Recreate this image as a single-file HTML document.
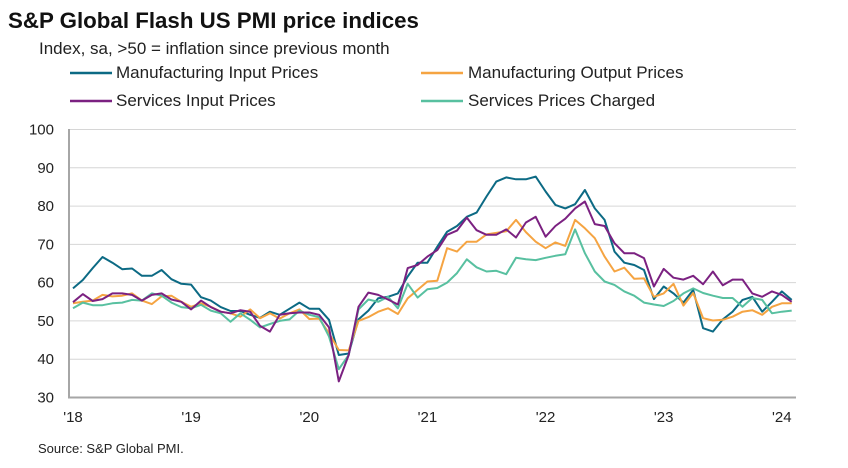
<!DOCTYPE html>
<html><head><meta charset="utf-8"><style>
body{margin:0;background:#fff;font-family:"Liberation Sans",Arial,sans-serif;}
svg text{font-family:"Liberation Sans",Arial,sans-serif;}
</style></head><body>
<svg id="chart" width="848" height="463" viewBox="0 0 848 463" xmlns="http://www.w3.org/2000/svg">
<text x="8" y="28" font-size="22.3" font-weight="bold" fill="#111">S&amp;P Global Flash US PMI price indices</text>
<text x="39" y="54" font-size="17" fill="#222">Index, sa, &gt;50 = inflation since previous month</text>
<g>
<g><line x1="70" y1="73" x2="112" y2="73" stroke="#0c6a84" stroke-width="2.5"/><text x="116" y="78" font-size="17" fill="#222">Manufacturing Input Prices</text></g>
<g><line x1="421" y1="73" x2="463" y2="73" stroke="#f5a442" stroke-width="2.5"/><text x="468" y="78" font-size="17" fill="#222">Manufacturing Output Prices</text></g>
<g><line x1="70" y1="101" x2="112" y2="101" stroke="#7b2181" stroke-width="2.5"/><text x="116" y="106" font-size="17" fill="#222">Services Input Prices</text></g>
<g><line x1="421" y1="101" x2="463" y2="101" stroke="#58c0a0" stroke-width="2.5"/><text x="468" y="106" font-size="17" fill="#222">Services Prices Charged</text></g>
</g>
<g id="grid"></g><g id="series"></g><g id="axes"></g>
<text x="38" y="453" font-size="13" fill="#222">Source: S&amp;P Global PMI.</text>
</svg>
<script>
const yTicks=[30,40,50,60,70,80,90,100];
const xTickLabels=["'18","'19","'20","'21","'22","'23","'24"];
const mfgInput=[58.5,60.7,63.8,66.7,65.2,63.5,63.7,61.8,61.8,63.3,60.9,59.7,59.5,56.2,55.3,53.6,52.6,52.6,51.6,50.8,52.4,51.6,53.2,54.8,53.2,53.2,50.3,41.1,41.5,50.4,52.7,55.9,56.3,57.2,61.6,65.2,65.2,69.4,73.3,74.8,77.2,78.3,82.5,86.4,87.5,87,87,87.7,83.8,80.3,79.4,80.5,84.2,79.4,76.4,68.1,65.2,64.6,63.3,55.7,59,57.2,54.8,58.1,48.1,47.2,50.4,52.4,55.5,56.3,52.4,55,57.7,55.5];
const mfgOutput=[54.6,55,55.3,56.8,56.4,56.6,57.2,55.3,54.4,56.4,56.6,55,53.7,54.6,53.7,52.4,52,51.1,53,50.7,52,50.6,52,53,50.5,50.6,46.8,42.4,42.3,50,51,52.4,53.3,51.8,55.9,58.1,60.3,60.5,69,68.1,70.7,70.7,72.6,73,73.4,76.4,73.2,70.7,69,70.5,69.6,76.4,74.2,71.6,66.8,62.9,63.9,61,61.1,56.3,57.2,59.7,54,57.3,50.7,50.1,50.3,51.1,52.4,52.8,51.6,53.7,54.6,54.6];
const svcInput=[54.9,57,55.2,55.7,57.2,57.2,56.8,55.3,56.8,57.2,55.6,55,53,55.3,53.6,52.4,52,52.8,52.4,48.7,47.2,51.6,52,52.2,52.2,51.6,48.3,34.2,41.1,53.7,57.4,56.8,55.6,54.3,63.8,64.6,66.8,68.5,72.5,73.6,77,73.7,72.5,72.5,73.9,71.8,75.7,77.2,72,74.8,76.7,79.4,81.2,75.3,74.8,70.3,67.7,67.7,66.4,59,63.6,61.3,60.8,61.8,59.6,62.9,59.3,60.8,60.8,57.2,56.3,57.7,56.8,55];
const svcCharged=[53.3,54.8,54.1,54.1,54.6,54.8,55.5,55.3,57.2,56.6,54.8,53.6,53.3,54.2,52.7,52,49.8,52,50.3,48.3,49.2,50,50.4,52.7,51.6,51,45.9,37.4,41.1,53,55.6,55,56.3,53.3,59.7,56.1,58.3,58.6,60,62.5,66.1,64,62.9,63.1,62.2,66.5,66.1,65.9,66.5,67,67.4,73.9,67.7,62.9,60.3,59.4,57.7,56.6,54.8,54.3,53.9,55.2,57.2,58.5,57.3,56.6,56,56,53.7,56,55.5,52,52.4,52.7];
const NS='http://www.w3.org/2000/svg';
const x0=73,step=9.845,yTop=129.5,yBot=397.5;
function xs(i){return x0+i*step;}
function ys(v){return yBot-(v-30)/70*(yBot-yTop);}
const grid=document.getElementById('grid'),axes=document.getElementById('axes'),ser=document.getElementById('series');
yTicks.forEach(t=>{
 if(t>30){const l=document.createElementNS(NS,'line');
 
 
 l.setAttribute('x1',69);l.setAttribute('x2',796);l.setAttribute('y1',ys(t));l.setAttribute('y2',ys(t));
 l.setAttribute('stroke','#d6d6d6');l.setAttribute('stroke-width','1');grid.appendChild(l);}
 const tx=document.createElementNS(NS,'text');
 
 
 tx.setAttribute('x',54);tx.setAttribute('y',ys(t)+5);tx.setAttribute('text-anchor','end');tx.setAttribute('font-size','15');tx.setAttribute('fill','#222');
 tx.textContent=t;axes.appendChild(tx);
});
xTickLabels.forEach((lab,i)=>{
 const tx=document.createElementNS(NS,'text');
 
 
 tx.setAttribute('x',xs(i*12));tx.setAttribute('y',422);tx.setAttribute('text-anchor','middle');tx.setAttribute('font-size','15');tx.setAttribute('fill','#222');
 tx.textContent=lab;axes.appendChild(tx);
});
const ax=document.createElementNS(NS,'path');


ax.setAttribute('d','M69 129 V397.5 H796');ax.setAttribute('stroke','#a6a6a6');ax.setAttribute('stroke-width','2');ax.setAttribute('fill','none');
axes.appendChild(ax);
[[mfgInput,'#0c6a84','series-mfg-input'],[mfgOutput,'#f5a442','series-mfg-output'],[svcCharged,'#58c0a0','series-svc-charged'],[svcInput,'#7b2181','series-svc-input']].forEach(([d,c,n])=>{
 const p=document.createElementNS(NS,'path');
 
 
 p.setAttribute('d',d.map((v,i)=>(i?'L':'M')+xs(i).toFixed(1)+' '+ys(v).toFixed(1)).join(' '));
 p.setAttribute('stroke',c);p.setAttribute('stroke-width','2');p.setAttribute('fill','none');p.setAttribute('stroke-linejoin','round');
 ser.appendChild(p);
});
</script>
</body></html>
